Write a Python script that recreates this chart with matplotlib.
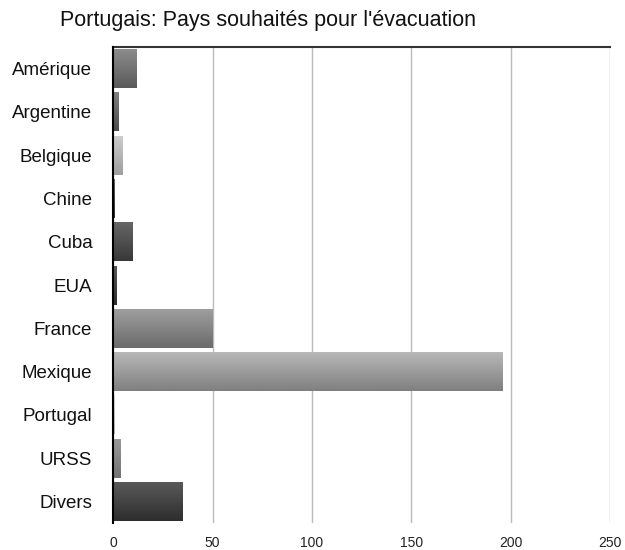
import matplotlib
matplotlib.use("Agg")
import matplotlib.pyplot as plt
import numpy as np

categories = ["Amérique", "Argentine", "Belgique", "Chine", "Cuba", "EUA",
              "France", "Mexique", "Portugal", "URSS", "Divers"]
values = [12, 3, 5, 1, 10, 2, 50, 196, 1, 4, 35]
# top / bottom gray levels of each bar's vertical gradient
top_gray = [0.55, 0.50, 0.80, 0.40, 0.40, 0.35, 0.62, 0.72, 0.85, 0.60, 0.35]
bot_gray = [0.35, 0.30, 0.62, 0.20, 0.22, 0.18, 0.42, 0.50, 0.70, 0.45, 0.18]
xticks = [0, 50, 100, 150, 200, 250]
title = "Portugais: Pays souhaités pour l'évacuation"

plt.rcParams['font.family'] = ['Liberation Sans', 'DejaVu Sans']

fig = plt.figure(figsize=(6.25, 5.5), dpi=100)
ax = fig.add_axes([0.181, 0.049, 0.795, 0.8655])

y = np.arange(len(categories))
h = 0.9
bars = ax.barh(y, values, height=h, color='none', edgecolor='none', zorder=3)
for bar, t, b in zip(bars, top_gray, bot_gray):
    x0, y0 = bar.get_x(), bar.get_y()
    w, hh = bar.get_width(), bar.get_height()
    grad = np.linspace(t, b, 64).reshape(-1, 1)
    ax.imshow(grad, cmap='gray', vmin=0, vmax=1, aspect='auto',
              extent=(x0, x0 + w, y0 + hh, y0), origin='upper',
              zorder=3, interpolation='bilinear')

ax.set_xlim(0, 250)
ax.set_ylim(len(categories) - 0.5, -0.5)
ax.set_yticks(y)
ax.set_yticklabels(categories, fontsize=13.5, color='#111111')
ax.set_xticks(xticks)
ax.set_xticklabels([str(v) for v in xticks], fontsize=10, color='#222222')
ax.tick_params(axis='both', length=0)
ax.tick_params(axis='y', pad=15)
ax.tick_params(axis='x', pad=9)
ax.xaxis.grid(True, color='#bbbbbb', linewidth=1.0, zorder=0)
ax.set_axisbelow(True)

for s in ['right', 'bottom']:
    ax.spines[s].set_visible(False)
ax.spines['left'].set_color('#000000')
ax.spines['left'].set_linewidth(1.5)
ax.spines['left'].set_zorder(5)
ax.spines['top'].set_color('#333333')
ax.spines['top'].set_linewidth(1.5)

fig.text(0.428, 0.962, title, ha='center', va='center', fontsize=15.5, color='#111111')

fig.savefig("out.png", dpi=100)
